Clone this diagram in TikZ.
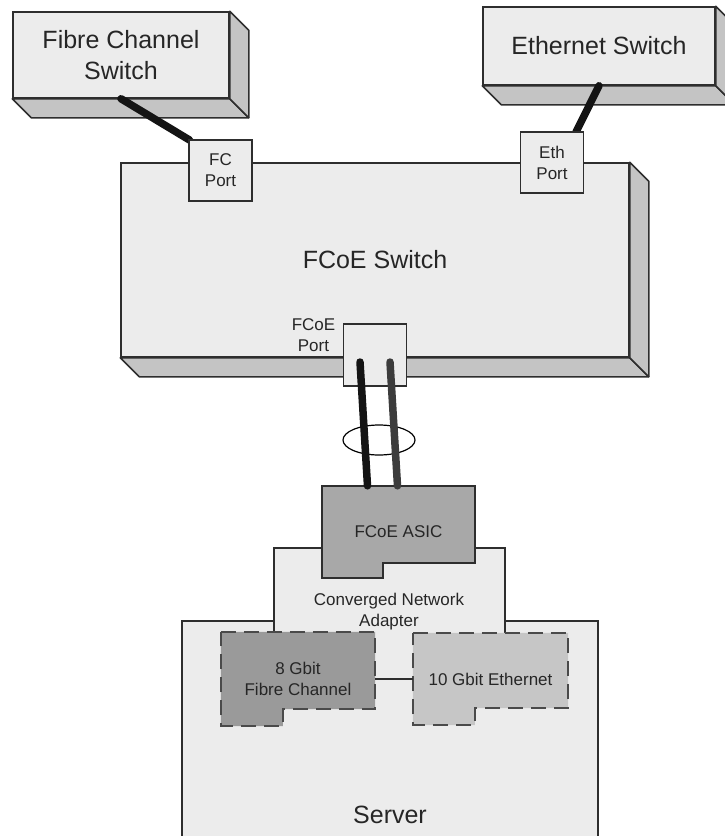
\documentclass[tikz,border=0pt]{standalone}
\usepackage{fontspec}
\setmainfont{Liberation Sans}
\usetikzlibrary{calc,positioning,backgrounds}

\definecolor{frontgray}{HTML}{ECECEC}
\definecolor{sidegray}{HTML}{C4C4C4}
\definecolor{edgegray}{HTML}{2E2E2E}
\definecolor{asicgray}{HTML}{A8A8A8}
\definecolor{fcgray}{HTML}{9A9A9A}
\definecolor{ethgray}{HTML}{C6C6C6}
\definecolor{dashgray}{HTML}{4A4A4A}
\definecolor{cableblack}{HTML}{141414}
\definecolor{cablegray}{HTML}{3C3C3C}
\definecolor{txtgray}{HTML}{262626}

\tikzset{
  bigtext/.style={font=\fontsize{25}{31}\selectfont, text=txtgray, align=center},
  smalltext/.style={font=\fontsize{17}{21}\selectfont, text=txtgray, align=center},
  frontface/.style={draw=edgegray, line width=1.5pt, fill=frontgray},
  sideface/.style={draw=edgegray, line width=1.5pt, fill=sidegray, line join=round},
  portbox/.style={frontface, minimum width=63pt, minimum height=61pt, inner sep=0pt},
  cable/.style={line width=7.5pt, line cap=round, draw=cableblack},
  % dashed cards on the adapter
  cardpart/.style={draw=dashgray, line width=2pt, dash pattern=on 15pt off 8pt},
  link/.style={draw=edgegray, line width=1.5pt},
}

\begin{document}
\begin{tikzpicture}[x=1pt, y=-1pt]
  \useasboundingbox (0,0) rectangle (724,836);

  % switches
  \node[frontface, bigtext, minimum width=216pt, minimum height=86pt] (fcsw) at (121,55) {Fibre Channel\\Switch};
  \node[frontface, bigtext, minimum width=232pt, minimum height=78pt] (ethsw) at (599,46) {Ethernet Switch};
  \node[frontface, bigtext, minimum width=508pt, minimum height=194pt] (fcoesw) at (375,260) {FCoE Switch};
  \foreach \sw in {fcsw, ethsw, fcoesw} {
    \draw[sideface] (\sw.south west) -- (\sw.south east) -- ++(19,19) -- ($(\sw.south west)+(19,19)$) -- cycle;
    \draw[sideface] (\sw.north east) -- ++(19,19) -- ($(\sw.south east)+(19,19)$) -- (\sw.south east) -- cycle;
  }

  % ports
  \coordinate (fcend) at (189.5,140);
  \coordinate (ethend) at (576,132);
  \draw[cable] (fcsw.south) -- (fcend);
  \draw[cable] (ethsw.south) -- (ethend);
  \node[portbox, smalltext] (fcport) at (220.5,170.5) {FC\\Port};
  \node[portbox, smalltext] (ethport) at (552,162.5) {Eth\\Port};
  \node[portbox, minimum height=62pt] (fcoeport) at (375,355) {};
  \node[smalltext, left=4pt of fcoeport.north west, anchor=north east, yshift=8pt] (fcoelbl) {FCoE\\Port};

  % server and converged network adapter
  \node[smalltext, minimum width=153pt, minimum height=92pt, inner sep=0pt] (asic) at (398.5,532) {FCoE ASIC};
  \node[smalltext] (cna) at (389,612) {Converged Network\\Adapter};
  \node[smalltext, minimum width=154pt, minimum height=94pt, inner sep=0pt] (fc) at (298,679) {8 Gbit\\Fibre Channel};
  \node[smalltext, minimum width=155pt, minimum height=92pt, inner sep=0pt] (eth) at (490.5,679) {10 Gbit Ethernet};
  \node[bigtext] (server) at (390,815) {Server};

  \begin{pgfonlayer}{background}
    \draw[frontface] (182,850) -- (182,621) -- (598,621) -- (598,850);
    \draw[frontface] (274,700) -- (274,548) -- (505,548) -- (505,700);
    \draw[frontface, fill=asicgray] (asic.north west) -- (asic.north east) -- ($(asic.south east)+(0,-15)$)
      -- ($(asic.south west)+(61,-15)$) -- ($(asic.south west)+(61,0)$) -- (asic.south west) -- cycle;
    \draw[cardpart, fill=fcgray] (fc.north west) -- (fc.north east) -- ($(fc.south east)+(0,-17)$)
      -- ($(fc.south west)+(62,-17)$) -- ($(fc.south west)+(62,0)$) -- (fc.south west) -- cycle;
    \draw[cardpart, fill=ethgray] (eth.north west) -- (eth.north east) -- ($(eth.south east)+(0,-17)$)
      -- ($(eth.south west)+(62,-17)$) -- ($(eth.south west)+(62,0)$) -- (eth.south west) -- cycle;
  \end{pgfonlayer}
  \draw[link] (fc.east) -- (eth.west);

  % FCoE cables
  \draw[line width=1.2pt] (379,440) ellipse [x radius=36pt, y radius=15pt];
  \draw[cable] ($(fcoeport.center)+(-15,7)$) -- ($(asic.north)+(-31,0)$);
  \draw[cable, draw=cablegray] ($(fcoeport.center)+(15,7)$) -- ($(asic.north)+(-1,0)$);
\end{tikzpicture}
\end{document}
